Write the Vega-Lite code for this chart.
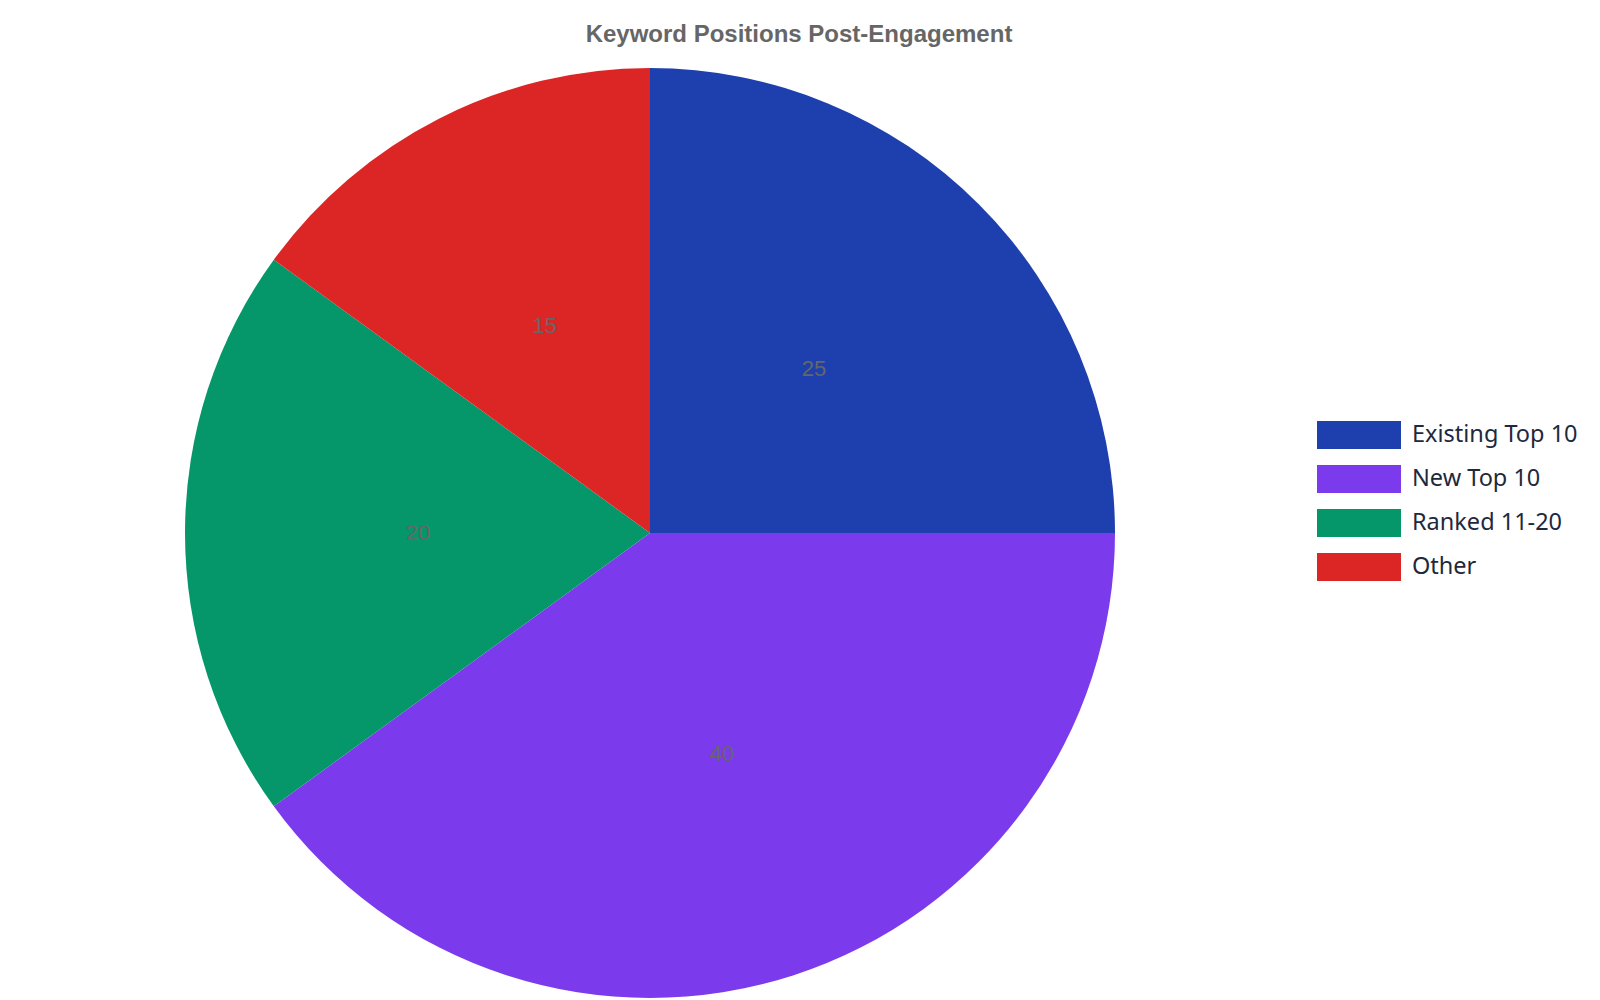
{
  "$schema": "https://vega.github.io/schema/vega-lite/v6.json",
  "width": 930,
  "height": 930,
  "autosize": {"type": "none"},
  "padding": {"left": 185, "top": 68, "right": 485, "bottom": 2},
  "background": "white",
  "config": {"view": {"stroke": null}},
  "title": {
    "text": "Keyword Positions Post-Engagement",
    "font": "Liberation Sans",
    "fontSize": 24,
    "fontWeight": "bold",
    "color": "#666666",
    "anchor": "middle",
    "baseline": "alphabetic",
    "offset": 2,
    "dx": 149
  },
  "data": {
    "values": [
      {"category": "Existing Top 10", "value": 25},
      {"category": "New Top 10", "value": 40},
      {"category": "Ranked 11-20", "value": 20},
      {"category": "Other", "value": 15}
    ]
  },
  "transform": [
    {"window": [{"op": "row_number", "as": "idx"}]}
  ],
  "encoding": {
    "theta": {"field": "value", "type": "quantitative", "stack": true},
    "order": {"field": "idx", "type": "quantitative"}
  },
  "layer": [
    {
      "mark": {"type": "arc", "outerRadius": 465},
      "encoding": {
        "color": {
          "field": "category",
          "type": "nominal",
          "sort": null,
          "scale": {
            "domain": ["Existing Top 10", "New Top 10", "Ranked 11-20", "Other"],
            "range": ["#1e40af", "#7c3aed", "#059669", "#dc2626"]
          },
          "legend": {
            "title": null,
            "orient": "none",
            "legendX": 1160,
            "legendY": 353,
            "padding": 0,
            "symbolType": "M-3,-1H3V1H-3Z",
            "symbolSize": 784,
            "symbolStrokeWidth": 0,
            "symbolOpacity": 1,
            "labelFont": "Noto Sans",
            "labelFontSize": 23.5,
            "labelColor": "#1e293b",
            "labelOffset": 39,
            "rowPadding": 16,
            "labelLimit": 400
          }
        }
      }
    },
    {
      "mark": {
        "type": "text",
        "radius": 232,
        "font": "Liberation Sans",
        "fontSize": 22,
        "fill": "#666666"
      },
      "encoding": {
        "text": {"field": "value", "type": "quantitative"}
      }
    }
  ]
}
